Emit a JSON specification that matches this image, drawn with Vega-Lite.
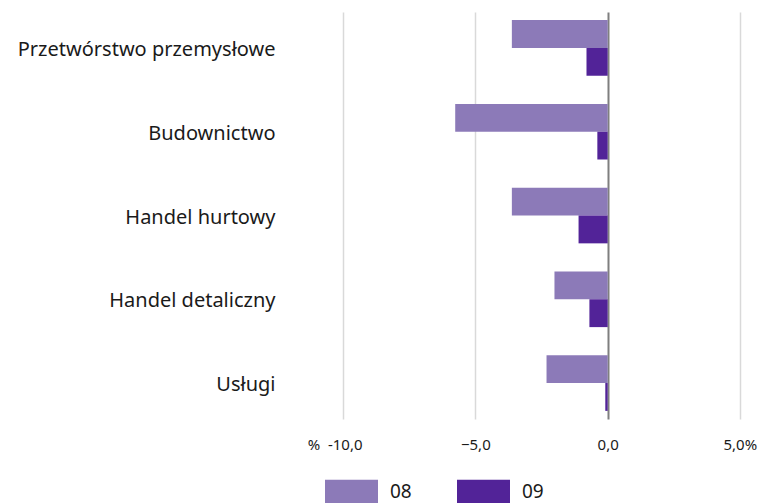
{
  "$schema": "https://vega.github.io/schema/vega-lite/v6.json",
  "autosize": "none",
  "width": 397,
  "height": 407,
  "padding": {"left": 343, "top": 12, "right": 24, "bottom": 84},
  "background": "white",
  "config": {"view": {"stroke": null}, "font": "Noto Sans"},
  "data": {
    "values": [
      {"sektor": "Przetwórstwo przemysłowe", "miesiac": "08", "wartosc": -3.62},
      {"sektor": "Przetwórstwo przemysłowe", "miesiac": "09", "wartosc": -0.80},
      {"sektor": "Budownictwo", "miesiac": "08", "wartosc": -5.76},
      {"sektor": "Budownictwo", "miesiac": "09", "wartosc": -0.39},
      {"sektor": "Handel hurtowy", "miesiac": "08", "wartosc": -3.62},
      {"sektor": "Handel hurtowy", "miesiac": "09", "wartosc": -1.10},
      {"sektor": "Handel detaliczny", "miesiac": "08", "wartosc": -2.01},
      {"sektor": "Handel detaliczny", "miesiac": "09", "wartosc": -0.69},
      {"sektor": "Usługi", "miesiac": "08", "wartosc": -2.31},
      {"sektor": "Usługi", "miesiac": "09", "wartosc": -0.09}
    ]
  },
  "mark": {"type": "bar"},
  "encoding": {
    "y": {
      "field": "sektor",
      "type": "nominal",
      "sort": null,
      "scale": {"paddingInner": 0.335, "paddingOuter": 0.097},
      "axis": {
        "title": null,
        "domain": false,
        "ticks": false,
        "labelPadding": 68,
        "labelOffset": 2,
        "labelFontSize": 20,
        "labelLimit": 400,
        "labelColor": "#1a1a1a",
        "labelFont": "Noto Sans"
      }
    },
    "yOffset": {"field": "miesiac", "type": "nominal", "scale": {"paddingInner": 0, "paddingOuter": 0}},
    "x": {
      "field": "wartosc",
      "type": "quantitative",
      "scale": {"domain": [-10, 5], "nice": false, "zero": false},
      "axis": {
        "title": null,
        "domain": false,
        "ticks": false,
        "values": [-10, -5, 0, 5],
        "grid": true,
        "gridColor": {"condition": {"test": "datum.value == 0", "value": "#7f7f7f"}, "value": "#d9d9d9"},
        "gridWidth": {"condition": {"test": "datum.value == 0", "value": 2}, "value": 1.5},
        "labelExpr": "datum.value == -10 ? '%\u00a0\u00a0-10,0' : datum.value == 5 ? '5,0%' : replace(format(datum.value, '.1f'), '.', ',')",
        "labelAlign": {"condition": [{"test": "datum.value == -10", "value": "right"}, {"test": "datum.value == 5", "value": "left"}], "value": "center"},
        "labelOffset": {"condition": [{"test": "datum.value == -10", "value": 19}, {"test": "datum.value == 5", "value": -17}], "value": 0},
        "labelPadding": 18,
        "labelFontSize": 15,
        "labelColor": "#1a1a1a",
        "labelFont": "Noto Sans"
      }
    },
    "color": {
      "field": "miesiac",
      "type": "nominal",
      "scale": {"domain": ["08", "09"], "range": ["#8c7ab8", "#522398"]},
      "legend": {
        "title": null,
        "orient": "none",
        "legendX": -18,
        "legendY": 453,
        "direction": "horizontal",
        "symbolType": "M-1,-0.45H1V0.45H-1Z",
        "symbolSize": 2809,
        "symbolStrokeWidth": 0,
        "symbolOpacity": 1,
        "labelFontSize": 19,
        "labelColor": "#1a1a1a",
        "labelFont": "Noto Sans",
        "labelOffset": 12,
        "columnPadding": 45,
        "padding": 0
      }
    }
  }
}
